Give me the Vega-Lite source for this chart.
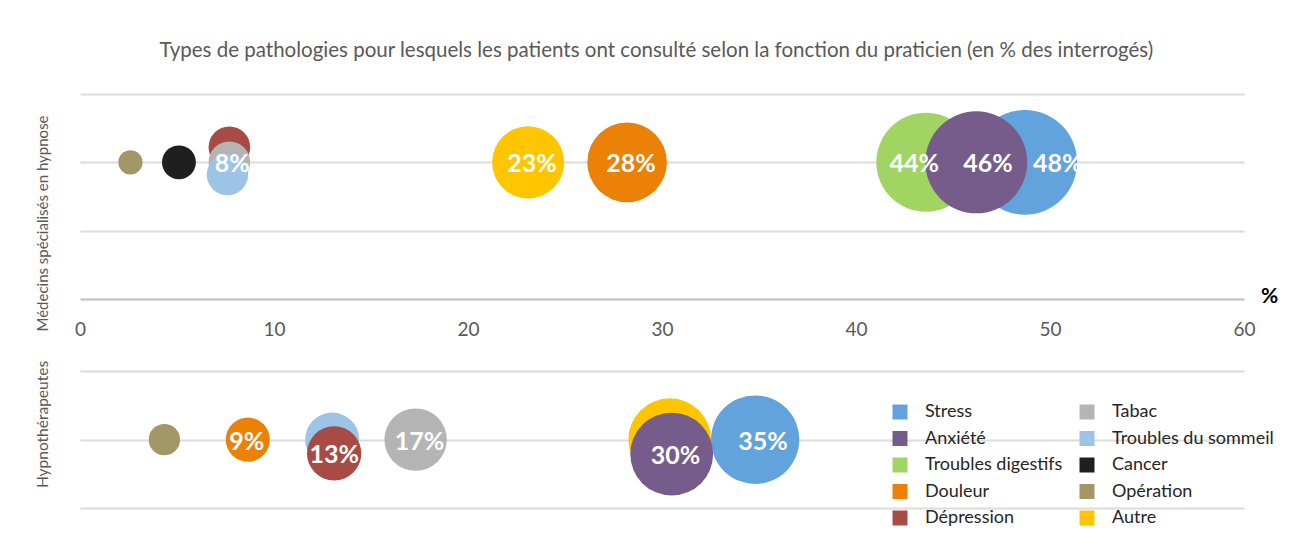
{
  "$schema": "https://vega.github.io/schema/vega-lite/v6.json",
  "background": "white",
  "padding": {"left": 34, "top": 40, "right": 10, "bottom": 0},
  "title": {
    "text": "Types de pathologies pour lesquels les patients ont consulté selon la fonction du praticien (en % des interrogés)",
    "font": "Lato", "fontSize": 20.5, "fontWeight": "normal", "color": "#595959",
    "anchor": "middle", "offset": 33
  },
  "bounds": "flush",
  "spacing": 72,
  "datasets": {
    "rows": [
      {"praticien": "Médecins spécialisés en hypnose", "pathologie": "Stress", "pct": 48.7, "y": 2, "label": "48%", "label_pct": 50.4},
      {"praticien": "Médecins spécialisés en hypnose", "pathologie": "Troubles digestifs", "pct": 43.6, "y": 2, "label": "44%", "label_pct": 43.0},
      {"praticien": "Médecins spécialisés en hypnose", "pathologie": "Anxiété", "pct": 46.2, "y": 2, "label": "46%", "label_pct": 46.8},
      {"praticien": "Médecins spécialisés en hypnose", "pathologie": "Douleur", "pct": 28.2, "y": 2, "label": "28%", "label_pct": 28.4},
      {"praticien": "Médecins spécialisés en hypnose", "pathologie": "Autre", "pct": 23.1, "y": 2, "label": "23%", "label_pct": 23.3},
      {"praticien": "Médecins spécialisés en hypnose", "pathologie": "Dépression", "pct": 7.7, "y": 2.22, "label": null, "label_pct": null},
      {"praticien": "Médecins spécialisés en hypnose", "pathologie": "Tabac", "pct": 7.7, "y": 2.0, "label": "8%", "label_pct": 7.85},
      {"praticien": "Médecins spécialisés en hypnose", "pathologie": "Troubles du sommeil", "pct": 7.6, "y": 1.82, "label": null, "label_pct": null},
      {"praticien": "Médecins spécialisés en hypnose", "pathologie": "Cancer", "pct": 5.1, "y": 2, "label": null, "label_pct": null},
      {"praticien": "Médecins spécialisés en hypnose", "pathologie": "Opération", "pct": 2.6, "y": 2, "label": null, "label_pct": null},
      {"praticien": "Hypnothérapeutes", "pathologie": "Stress", "pct": 34.8, "y": 2, "label": "35%", "label_pct": 35.2},
      {"praticien": "Hypnothérapeutes", "pathologie": "Autre", "pct": 30.4, "y": 2, "label": null, "label_pct": null},
      {"praticien": "Hypnothérapeutes", "pathologie": "Anxiété", "pct": 30.5, "y": 1.79, "label": "30%", "label_pct": 30.7},
      {"praticien": "Hypnothérapeutes", "pathologie": "Tabac", "pct": 17.3, "y": 2, "label": "17%", "label_pct": 17.5},
      {"praticien": "Hypnothérapeutes", "pathologie": "Troubles du sommeil", "pct": 13.0, "y": 2, "label": null, "label_pct": null},
      {"praticien": "Hypnothérapeutes", "pathologie": "Dépression", "pct": 13.1, "y": 1.8, "label": "13%", "label_pct": 13.1},
      {"praticien": "Hypnothérapeutes", "pathologie": "Douleur", "pct": 8.65, "y": 2, "label": "9%", "label_pct": 8.6},
      {"praticien": "Hypnothérapeutes", "pathologie": "Opération", "pct": 4.35, "y": 2, "label": null, "label_pct": null}
    ]
  },
  "vconcat": [
    {
      "width": 1164,
      "height": 205,
      "data": {"name": "rows"},
      "transform": [{"filter": {"field": "praticien", "equal": "Médecins spécialisés en hypnose"}}],
      "layer": [
        {
          "mark": {"type": "circle", "opacity": 1, "strokeWidth": 0},
          "encoding": {
            "x": {
              "field": "pct", "type": "quantitative",
              "scale": {"domain": [0, 60], "nice": false},
              "axis": {
                "values": [0, 10, 20, 30, 40, 50, 60], "grid": false, "ticks": false, "labelFlush": false,
                "domain": true, "domainColor": "#c8c8c8", "domainWidth": 2.5,
                "labelFont": "Lato", "labelFontSize": 19, "labelColor": "#595959", "labelPadding": 21,
                "title": "%", "titleFont": "Lato", "titleFontSize": 21, "titleFontWeight": "bold", "titleColor": "black",
                "titleX": 1189, "titleY": -3, "titleAlign": "center", "titleBaseline": "middle"
              }
            },
            "y": {
              "field": "y", "type": "quantitative",
              "scale": {"domain": [0, 3], "nice": false},
              "axis": {
                "values": [1, 2, 3], "grid": true, "gridColor": "#dcdcdc", "gridWidth": 2,
                "labels": false, "ticks": false, "domain": false,
                "title": "Médecins spécialisés en hypnose", "titleFont": "Lato", "titleFontSize": 15,
                "titleFontWeight": "normal", "titleColor": "#595959",
                "titleAngle": -90, "titleX": -38, "titleY": 129, "titleAlign": "center", "titleBaseline": "middle"
              }
            },
            "size": {
              "field": "pct", "type": "quantitative",
              "scale": {"domain": [0, 60], "range": [0, 13500]}, "legend": null
            },
            "color": {
              "field": "pathologie", "type": "nominal",
              "scale": {
                "domain": ["Stress", "Anxiété", "Troubles digestifs", "Douleur", "Dépression", "Tabac", "Troubles du sommeil", "Cancer", "Opération", "Autre"],
                "range": ["#62a3dd", "#765c8b", "#a2d464", "#ec8108", "#a84b44", "#b4b4b4", "#9dc3e6", "#1f1f1f", "#a39766", "#ffc600"]
              },
              "legend": {"title": null, "orient": "none", "legendX": 811, "legendY": 309}
            }
          }
        },
        {
          "transform": [{"filter": "isValid(datum.label)"}],
          "mark": {"type": "text", "font": "Lato", "fontWeight": "bold", "fontSize": 25, "color": "white", "baseline": "middle", "align": "center", "dy": 2},
          "encoding": {
            "x": {"field": "label_pct", "type": "quantitative"},
            "y": {"field": "y", "type": "quantitative"},
            "text": {"field": "label", "type": "nominal"}
          }
        }
      ]
    },
    {
      "width": 1164,
      "height": 206,
      "data": {"name": "rows"},
      "transform": [{"filter": {"field": "praticien", "equal": "Hypnothérapeutes"}}],
      "layer": [
        {
          "mark": {"type": "circle", "opacity": 1, "strokeWidth": 0},
          "encoding": {
            "x": {
              "field": "pct", "type": "quantitative",
              "scale": {"domain": [0, 60], "nice": false},
              "axis": {
                "values": [0, 10, 20, 30, 40, 50, 60], "grid": false, "ticks": false, "labels": false,
                "domain": true, "domainColor": "#c8c8c8", "domainWidth": 2.5,
                "title": null
              }
            },
            "y": {
              "field": "y", "type": "quantitative",
              "scale": {"domain": [0, 3], "nice": false},
              "axis": {
                "values": [1, 2, 3], "grid": true, "gridColor": "#dcdcdc", "gridWidth": 2,
                "labels": false, "ticks": false, "domain": false,
                "title": "Hypnothérapeutes", "titleFont": "Lato", "titleFontSize": 15.5,
                "titleFontWeight": "normal", "titleColor": "#595959",
                "titleAngle": -90, "titleX": -38, "titleY": 53, "titleAlign": "center", "titleBaseline": "middle"
              }
            },
            "size": {
              "field": "pct", "type": "quantitative",
              "scale": {"domain": [0, 60], "range": [0, 13500]}, "legend": null
            },
            "color": {
              "field": "pathologie", "type": "nominal",
              "legend": {"title": null, "orient": "none", "legendX": 811, "legendY": 309}
            }
          }
        },
        {
          "transform": [{"filter": "isValid(datum.label)"}],
          "mark": {"type": "text", "font": "Lato", "fontWeight": "bold", "fontSize": 25, "color": "white", "baseline": "middle", "align": "center", "dy": 2},
          "encoding": {
            "x": {"field": "label_pct", "type": "quantitative"},
            "y": {"field": "y", "type": "quantitative"},
            "text": {"field": "label", "type": "nominal"}
          }
        }
      ]
    }
  ],
  "resolve": {"scale": {"color": "shared", "size": "shared", "x": "shared"}},
  "config": {
    "view": {"stroke": null},
    "legend": {
      "columns": 2, "symbolType": "square", "symbolSize": 225, "symbolStrokeWidth": 0, "symbolOpacity": 1,
      "labelFont": "Lato", "labelFontSize": 18, "labelColor": "#262626", "labelOffset": 16,
      "rowPadding": 8.5, "columnPadding": 15, "labelLimit": 300
    }
  }
}
